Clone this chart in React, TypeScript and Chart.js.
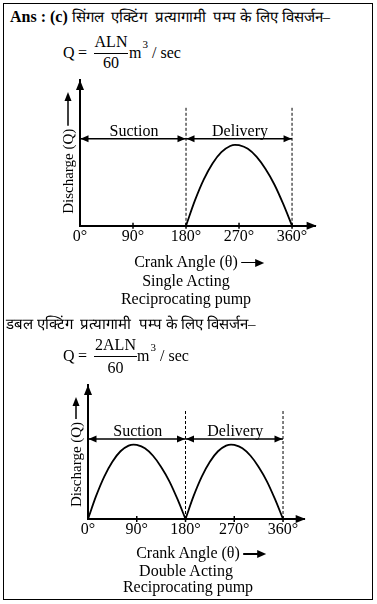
import React, { useEffect, useRef } from "react";
import { Chart, registerables } from "chart.js";
Chart.register(...registerables);

// ---------- data ----------
const tickValues = [0, 90, 180, 270, 360];
const tickLabels = ["0°", "90°", "180°", "270°", "360°"];
const xMax = 400;
const yMax = 1.8;
const phaseStarts = [0, 180];
const phaseEnds = [180, 360];
const phaseLabels = ["Suction", "Delivery"];
const phaseLevel = 1.075;
const strokeEnds = [180, 360];
const strokeTop = 1.47;
const yTitle = "Discharge (Q)";

const singleAngles = [180, 195, 210, 225, 240, 255, 263, 270, 285, 300, 315, 330, 345, 360];
const singleQ = [0, 0.31, 0.57, 0.77, 0.91, 0.985, 1.0, 0.995, 0.95, 0.85, 0.7, 0.51, 0.27, 0];

const doubleAngles1 = [0, 15, 30, 45, 60, 75, 84, 90, 105, 120, 135, 150, 165, 180];
const doubleQ1 = [0, 0.31, 0.57, 0.77, 0.91, 0.985, 1.0, 0.995, 0.95, 0.85, 0.7, 0.51, 0.27, 0];
const doubleAngles2 = [180, 195, 210, 225, 240, 255, 264, 270, 285, 300, 315, 330, 345, 360];
const doubleQ2 = [0, 0.31, 0.57, 0.77, 0.91, 0.985, 1.0, 0.995, 0.95, 0.85, 0.7, 0.51, 0.27, 0];

const SERIF = "'Liberation Serif', 'Times New Roman', serif";

// ---------- helpers ----------
function curve(xs: number[], ys: number[]) {
  return {
    data: xs.map((x, i) => ({ x, y: ys[i] })),
    borderColor: "#000",
    borderWidth: 1.8,
    pointRadius: 0,
    tension: 0.4,
    cubicInterpolationMode: "monotone",
    fill: false,
  };
}
function dashed(x: number) {
  return {
    data: [
      { x, y: 0 },
      { x, y: strokeTop },
    ],
    borderColor: "#000",
    borderWidth: 1,
    borderDash: [3, 2],
    pointRadius: 0,
    fill: false,
  };
}
function phaseLine(a: number, b: number) {
  return {
    data: [
      { x: a, y: phaseLevel },
      { x: b, y: phaseLevel },
    ],
    borderColor: "#000",
    borderWidth: 1.4,
    pointRadius: 0,
    fill: false,
  };
}

function tri(ctx: CanvasRenderingContext2D, x: number, y: number, dir: string, len: number, half: number) {
  ctx.beginPath();
  ctx.moveTo(x, y);
  if (dir === "right") {
    ctx.lineTo(x - len, y - half);
    ctx.lineTo(x - len, y + half);
  } else if (dir === "left") {
    ctx.lineTo(x + len, y - half);
    ctx.lineTo(x + len, y + half);
  } else if (dir === "up") {
    ctx.lineTo(x - half, y + len);
    ctx.lineTo(x + half, y + len);
  }
  ctx.closePath();
  ctx.fill();
}

const decorPlugin = {
  id: "decor",
  afterDraw(chart: any) {
    const ctx: CanvasRenderingContext2D = chart.ctx;
    const xs = chart.scales.x;
    const ys = chart.scales.y;
    const x0 = xs.getPixelForValue(0);
    const y0 = ys.getPixelForValue(0);
    const xEnd = xs.getPixelForValue(xMax);
    const yEnd = ys.getPixelForValue(yMax);
    ctx.save();
    ctx.fillStyle = "#000";
    ctx.strokeStyle = "#000";
    // axis arrowheads
    tri(ctx, xEnd + 1, y0, "right", 10, 4);
    tri(ctx, x0, yEnd, "up", 10, 4);
    // tick marks
    ctx.lineWidth = 1.5;
    tickValues.slice(1).forEach((v) => {
      const px = xs.getPixelForValue(v);
      ctx.beginPath();
      ctx.moveTo(px, y0 - 3);
      ctx.lineTo(px, y0 + 3);
      ctx.stroke();
    });
    // phase arrowheads + labels
    const py = ys.getPixelForValue(phaseLevel);
    ctx.font = `16px ${SERIF}`;
    ctx.textAlign = "center";
    ctx.textBaseline = "alphabetic";
    phaseStarts.forEach((a, i) => {
      const pa = xs.getPixelForValue(a);
      const pb = xs.getPixelForValue(phaseEnds[i]);
      tri(ctx, pa + 0.5, py, "left", 8, 3.5);
      tri(ctx, pb - 0.5, py, "right", 8, 3.5);
      ctx.fillText(phaseLabels[i], (pa + pb) / 2 + 1, py - 3);
    });
    // y title with arrow
    ctx.save();
    ctx.translate(x0 - 12, y0 - 12);
    ctx.rotate(-Math.PI / 2);
    ctx.font = `15px ${SERIF}`;
    ctx.textAlign = "left";
    ctx.textBaseline = "middle";
    ctx.fillText(yTitle, 0, 1);
    const w = ctx.measureText(yTitle).width;
    const tipLen = y0 - 12 - (yEnd + 12);
    ctx.lineWidth = 1.5;
    ctx.beginPath();
    ctx.moveTo(w + 3, 0);
    ctx.lineTo(tipLen - 6, 0);
    ctx.stroke();
    ctx.beginPath();
    ctx.moveTo(tipLen, 0);
    ctx.lineTo(tipLen - 9, -3.5);
    ctx.lineTo(tipLen - 9, 3.5);
    ctx.closePath();
    ctx.fill();
    ctx.restore();
    ctx.restore();
  },
};

function PumpChart(props: { top: number; height: number; padding: any; datasets: any[] }) {
  const ref = useRef<HTMLCanvasElement>(null);
  useEffect(() => {
    const chart = new Chart(ref.current as HTMLCanvasElement, {
      type: "line",
      data: { datasets: props.datasets as any },
      options: {
        animation: false,
        responsive: false,
        devicePixelRatio: 1,
        layout: { padding: props.padding },
        plugins: { legend: { display: false }, tooltip: { enabled: false } },
        scales: {
          x: {
            type: "linear",
            min: 0,
            max: xMax,
            grid: { display: false, drawTicks: false },
            border: { display: true, color: "#000", width: 2 },
            afterBuildTicks: (scale: any) => {
              scale.ticks = tickValues.map((v) => ({ value: v }));
            },
            ticks: {
              autoSkip: false,
              maxRotation: 0,
              padding: 1,
              color: "#000",
              font: { family: SERIF, size: 16 },
              callback: (v: any) => tickLabels[tickValues.indexOf(Number(v))] ?? "",
            },
          },
          y: {
            type: "linear",
            min: 0,
            max: yMax,
            grid: { display: false, drawTicks: false },
            border: { display: true, color: "#000", width: 2 },
            ticks: { display: false },
          },
        },
      } as any,
      plugins: [decorPlugin],
    });
    return () => chart.destroy();
  }, []);
  return (
    <canvas
      ref={ref}
      width={377}
      height={props.height}
      style={{ position: "absolute", left: 0, top: props.top, width: 377, height: props.height, display: "block" }}
    />
  );
}

function T(p: { x: number; b: number; size?: number; bold?: boolean; center?: boolean; children: any; style?: any }) {
  const size = p.size ?? 16;
  return (
    <div
      style={{
        position: "absolute",
        left: p.x,
        top: p.b - 0.8375 * size,
        fontSize: size,
        lineHeight: `${size}px`,
        fontWeight: p.bold ? "bold" : "normal",
        whiteSpace: "nowrap",
        transform: p.center ? "translateX(-50%)" : undefined,
        color: "#000",
        ...(p.style || {}),
      }}
    >
      {p.children}
    </div>
  );
}

function Formula(p: { num: string; b: number; numB: number; denB: number; barY: number; barL: number; barR: number; mX: number }) {
  const c = (p.barL + p.barR) / 2;
  return (
    <>
      <T x={63} b={p.b}>Q</T>
      <T x={78} b={p.b}>=</T>
      <T x={c} b={p.numB} center>{p.num}</T>
      <div style={{ position: "absolute", left: p.barL, top: p.barY, width: p.barR - p.barL, height: 1, background: "#000" }} />
      <T x={c} b={p.denB} center>60</T>
      <T x={p.mX} b={p.b}>
        m<span style={{ fontSize: 11, position: "relative", top: -10, marginLeft: 1 }}>3</span> / sec
      </T>
    </>
  );
}

function Arrowed(p: { x: number; b: number; text: string }) {
  return (
    <T x={p.x} b={p.b} center>
      <span style={{ position: "relative" }}>
        {p.text}
        <span style={{ position: "absolute", left: "100%", top: 0, width: 26, height: 16 }}>
          <span style={{ position: "absolute", left: 3, top: 9, width: 16, height: 1.5, background: "#000" }} />
          <span
            style={{
              position: "absolute",
              left: 17,
              top: 6,
              width: 0,
              height: 0,
              borderTop: "4px solid transparent",
              borderBottom: "4px solid transparent",
              borderLeft: "9px solid #000",
            }}
          />
        </span>
      </span>
    </T>
  );
}

export default function App() {
  const singleSets = [
    curve(singleAngles, singleQ),
    ...strokeEnds.map(dashed),
    ...phaseStarts.map((a, i) => phaseLine(a, phaseEnds[i])),
  ];
  const doubleSets = [
    curve(doubleAngles1, doubleQ1),
    curve(doubleAngles2, doubleQ2),
    ...strokeEnds.map(dashed),
    ...phaseStarts.map((a, i) => phaseLine(a, phaseEnds[i])),
  ];
  return (
    <div
      style={{
        position: "absolute",
        left: 0,
        top: 0,
        width: 377,
        height: 604,
        background: "#fff",
        overflow: "hidden",
        fontFamily: SERIF,
        color: "#000",
      }}
    >
      <div style={{ position: "absolute", left: 3, top: 3, width: 368, height: 595, border: "1px solid #000" }} />
      <T x={10} b={22}>
        <b>Ans : (c)</b>{" "}
        <span style={{ fontSize: 15 }}>सिंगल&nbsp; एक्टिंग&nbsp; प्रत्यागामी&nbsp; पम्प के लिए विसर्जन–</span>
      </T>
      <Formula num="ALN" b={58} numB={47.5} denB={68.5} barY={53} barL={94} barR={128} mX={129} />
      <PumpChart top={60} height={200} padding={{ left: 80, top: 20, right: 61.4, bottom: 13 }} datasets={singleSets} />
      <Arrowed x={186} b={267} text="Crank Angle (θ)" />
      <T x={186} b={286.5} center>Single Acting</T>
      <T x={186} b={304.5} center>Reciprocating pump</T>

      <T x={6} b={330} size={15}>डबल एक्टिंग&nbsp; प्रत्यागामी&nbsp; पम्प के लिए विसर्जन–</T>
      <Formula num="2ALN" b={361} numB={350} denB={373} barY={356} barL={94} barR={137} mX={137} />
      <PumpChart top={370} height={180} padding={{ left: 88, top: 15, right: 72.3, bottom: 9.8 }} datasets={doubleSets} />
      <Arrowed x={188} b={558.5} text="Crank Angle (θ)" />
      <T x={186} b={576} center>Double Acting</T>
      <T x={188} b={592.5} center>Reciprocating pump</T>
    </div>
  );
}
